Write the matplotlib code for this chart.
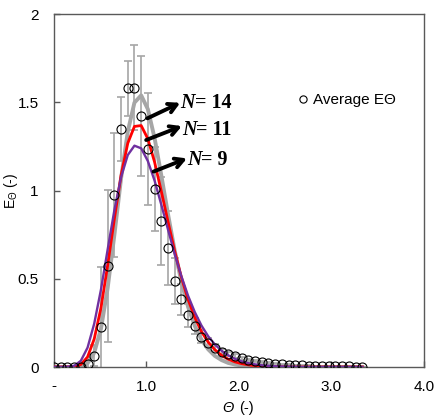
import numpy as np
import matplotlib
matplotlib.use("Agg")
import matplotlib.pyplot as plt

plt.rcParams["font.family"] = ["Liberation Sans", "DejaVu Sans"]
plt.rcParams["mathtext.fontset"] = "custom"
plt.rcParams["mathtext.rm"] = "Liberation Sans"
plt.rcParams["mathtext.it"] = "Liberation Sans:italic"

# dimensionless time
theta = [0.000, 0.073, 0.145, 0.218, 0.290, 0.363, 0.435, 0.508, 0.580, 0.653,
         0.725, 0.798, 0.870, 0.943, 1.015, 1.088, 1.160, 1.233, 1.305, 1.378,
         1.450, 1.523, 1.595, 1.668, 1.740, 1.813, 1.885, 1.958, 2.030, 2.103,
         2.175, 2.248, 2.320, 2.393, 2.465, 2.538, 2.610, 2.683, 2.755, 2.828,
         2.900, 2.973, 3.045, 3.118, 3.190, 3.263, 3.335]

# measured average E(theta) and its spread
e_avg = [0, 0, 0, 0, 0, 0.015, 0.064, 0.227, 0.572, 0.976,
         1.347, 1.579, 1.582, 1.424, 1.237, 1.008, 0.827, 0.676, 0.487, 0.383,
         0.293, 0.232, 0.172, 0.138, 0.109, 0.087, 0.074, 0.062, 0.050, 0.041,
         0.034, 0.028, 0.023, 0.019, 0.016, 0.013, 0.011, 0.009, 0.008, 0.006,
         0.005, 0.004, 0.004, 0.003, 0.003, 0.002, 0.002]
e_err = [0, 0, 0, 0, 0, 0.02, 0.06, 0.34, 0.43, 0.35,
         0.18, 0.155, 0.24, 0.34, 0.317, 0.24, 0.25, 0.21, 0.13, 0.09,
         0.065, 0.045, 0.035, 0.025, 0.02, 0.015, 0.012, 0.01, 0.008, 0.006,
         0.005, 0.004, 0.004, 0.003, 0.003, 0.002, 0.002, 0.002, 0.001, 0.001,
         0.001, 0.001, 0.001, 0, 0, 0, 0]

# tanks-in-series curves
e_n14 = [0, 0, 0, 0, 0.003, 0.021, 0.081, 0.217, 0.446, 0.748,
         1.067, 1.334, 1.498, 1.539, 1.461, 1.297, 1.088, 0.867, 0.661, 0.483,
         0.341, 0.233, 0.155, 0.100, 0.063, 0.039, 0.023, 0.014, 0.008, 0.005,
         0.003, 0.002, 0.001, 0, 0, 0, 0, 0, 0, 0,
         0, 0, 0, 0, 0, 0, 0]
e_n11 = [0, 0, 0, 0.002, 0.014, 0.057, 0.159, 0.335, 0.575, 0.840,
         1.085, 1.268, 1.363, 1.368, 1.293, 1.161, 0.997, 0.824, 0.657, 0.508,
         0.383, 0.281, 0.201, 0.141, 0.098, 0.066, 0.044, 0.029, 0.019, 0.012,
         0.008, 0.005, 0.003, 0.002, 0.001, 0, 0, 0, 0, 0,
         0, 0, 0, 0, 0, 0, 0]
e_n9 = [0, 0, 0.001, 0.007, 0.035, 0.110, 0.246, 0.439, 0.665, 0.889,
        1.075, 1.201, 1.254, 1.239, 1.167, 1.056, 0.921, 0.779, 0.641, 0.514,
        0.404, 0.311, 0.235, 0.174, 0.128, 0.092, 0.066, 0.046, 0.032, 0.022,
        0.015, 0.010, 0.007, 0.004, 0.003, 0.002, 0.001, 0, 0, 0,
        0, 0, 0, 0, 0, 0, 0]

labels_n = ["14", "11", "9"]
x_ticks = [0, 1, 2, 3, 4]
x_ticklabels = ["-", "1.0", "2.0", "3.0", "4.0"]
y_ticks = [0, 0.5, 1, 1.5, 2]
y_ticklabels = ["0", "0.5", "1", "1.5", "2"]

fig = plt.figure(figsize=(4.36, 4.18), dpi=100)
ax = fig.add_axes([0.1239, 0.122, 0.848, 0.8445])

# Error bars
ax.errorbar(theta, e_avg, yerr=e_err, fmt="none", ecolor="#a6a6a6",
            elinewidth=1.2, capsize=2.6, capthick=1.2, zorder=1)

# Model lines
ax.plot(theta, e_n14, color="#a6a6a6", lw=2.8, zorder=2)
ax.plot(theta, e_n11, color="#ff0000", lw=2.0, zorder=3)
ax.plot(theta, e_n9, color="#7030a0", lw=1.7, zorder=4)

# Data points
ax.plot(theta, e_avg, "o", ms=6.5, mfc="none", mec="black", mew=0.8,
        zorder=5, label="Average E\u0398")

# Annotations
arrows = [((1.011, 1.409), (1.365, 1.497), 1.497),
          ((0.997, 1.286), (1.383, 1.365), 1.340),
          ((1.076, 1.107), (1.438, 1.182), 1.172)]
for (tail, head, ty), lab in zip(arrows, labels_n):
    ax.annotate("", xy=head, xytext=tail,
                arrowprops=dict(arrowstyle="->,head_length=0.6,head_width=0.33",
                                lw=2.8, color="black", shrinkA=0, shrinkB=0),
                zorder=6)
    tn = ax.text(head[0], ty, "N", family=["Liberation Serif"], style="italic",
                 weight="bold", fontsize=14.5, ha="left", va="center", zorder=6)
    ax.annotate("= " + lab, xy=(1.0, 0.5), xycoords=tn, family=["Liberation Serif"],
                weight="bold", fontsize=14.5, ha="left", va="center", zorder=6)

ax.set_xlim(0, 4)
ax.set_ylim(0, 2)
ax.set_xticks(x_ticks)
ax.set_xticklabels(x_ticklabels)
ax.set_yticks(y_ticks)
ax.set_yticklabels(y_ticklabels)
ax.tick_params(direction="in", length=4, width=1, color="#595959", labelsize=11)
ax.tick_params(axis="y", pad=11)
ax.tick_params(axis="x", pad=9)
for s in ax.spines.values():
    s.set_color("#595959")
    s.set_linewidth(1)

# x label: italic theta followed by upright "(-)"
ax.text(0.5, -0.116, "\u0398 ", style="italic", fontsize=10.5,
        transform=ax.transAxes, ha="right", va="center")
ax.text(0.5, -0.116, "(-)", fontsize=10.5,
        transform=ax.transAxes, ha="left", va="center")
ax.set_ylabel(r"E$_{\Theta}$ (-)", fontsize=10)
ax.yaxis.set_label_coords(-0.092, 0.5)

ax.legend(loc="center left", bbox_to_anchor=(0.658, 0.756), frameon=False,
          handlelength=0.8, handletextpad=0.25, borderpad=0, borderaxespad=0,
          fontsize=11, markerscale=0.8)

fig.savefig("out.png", dpi=100)
